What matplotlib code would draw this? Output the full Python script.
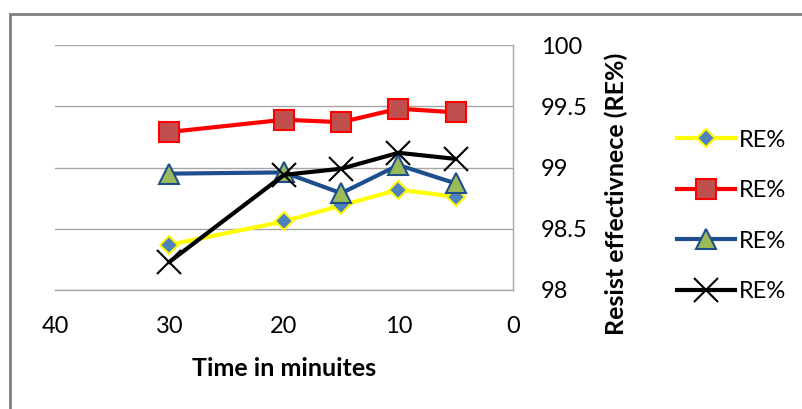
import matplotlib.pyplot as plt
from matplotlib.patches import Rectangle

# data
minutes = [30, 20, 15, 10, 5]
re_yellow = [98.37, 98.56, 98.69, 98.82, 98.76]
re_red = [99.29, 99.39, 99.37, 99.48, 99.45]
re_blue = [98.95, 98.96, 98.79, 99.02, 98.87]
re_black = [98.23, 98.94, 98.99, 99.12, 99.07]

x_ticks = [40, 30, 20, 10, 0]
y_ticks = [98, 98.5, 99, 99.5, 100]
y_tick_labels = ["98", "98.5", "99", "99.5", "100"]

plt.rcParams["font.family"] = ["Lato", "DejaVu Sans"]

fig = plt.figure(figsize=(8.03, 4.09), dpi=100)
fig.patch.set_facecolor("white")

# outer chart frame
fig.patches.append(Rectangle((10 / 803, -0.05), 1.0, 1.05 - 14 / 409,
                             transform=fig.transFigure, fill=False,
                             edgecolor="#808080", linewidth=2))

ax = fig.add_axes([55 / 803, 1 - 290 / 409, (513 - 55) / 803, (290 - 45) / 409])

ax.plot(minutes, re_yellow, color="#ffff00", linewidth=3, marker="D",
        markersize=9, markerfacecolor="#4f81bd", markeredgecolor="#ffff00",
        markeredgewidth=1.5, label="RE%", zorder=3)
ax.plot(minutes, re_red, color="#ff0000", linewidth=3, marker="s",
        markersize=14, markerfacecolor="#c0504d", markeredgecolor="#ff0000",
        markeredgewidth=1.5, label="RE%", zorder=3)
ax.plot(minutes, re_blue, color="#1f4e8c", linewidth=3, marker="^",
        markersize=14, markerfacecolor="#9bbb59", markeredgecolor="#1f4e8c",
        markeredgewidth=1.5, label="RE%", zorder=3)
ax.plot(minutes, re_black, color="black", linewidth=3, marker="x",
        markersize=17, markeredgewidth=1.5, label="RE%", zorder=4)

ax.set_xlim(40, 0)
ax.set_ylim(98, 100)
ax.set_xticks(x_ticks)
ax.set_yticks(y_ticks)
ax.set_yticklabels(y_tick_labels)
ax.yaxis.tick_right()
ax.tick_params(length=0, labelsize=17, colors="black")
ax.tick_params(axis="y", pad=20)
ax.tick_params(axis="x", pad=19)

ax.grid(axis="y", color="#a6a6a6", linewidth=1)
ax.set_axisbelow(True)
for side in ["left", "top"]:
    ax.spines[side].set_visible(False)
for side in ["right", "bottom"]:
    ax.spines[side].set_color("#a6a6a6")
    ax.spines[side].set_linewidth(1)

ax.set_xlabel("Time in minuites", fontsize=18, fontweight="bold", labelpad=14)

# y label sits lower than the axes centre in the original
fig.text(616 / 803, 1 - 194 / 409, "Resist effectivnece (RE%)", fontsize=18,
         fontweight="bold", rotation=90, ha="center", va="center")

fig.legend(loc="center left", bbox_to_anchor=(677 / 803, 1 - 216 / 409),
           frameon=False, fontsize=17, borderpad=0, borderaxespad=0,
           labelspacing=1.25, handlelength=2.45, handletextpad=0.15)

fig.savefig("out.png", dpi=100)
